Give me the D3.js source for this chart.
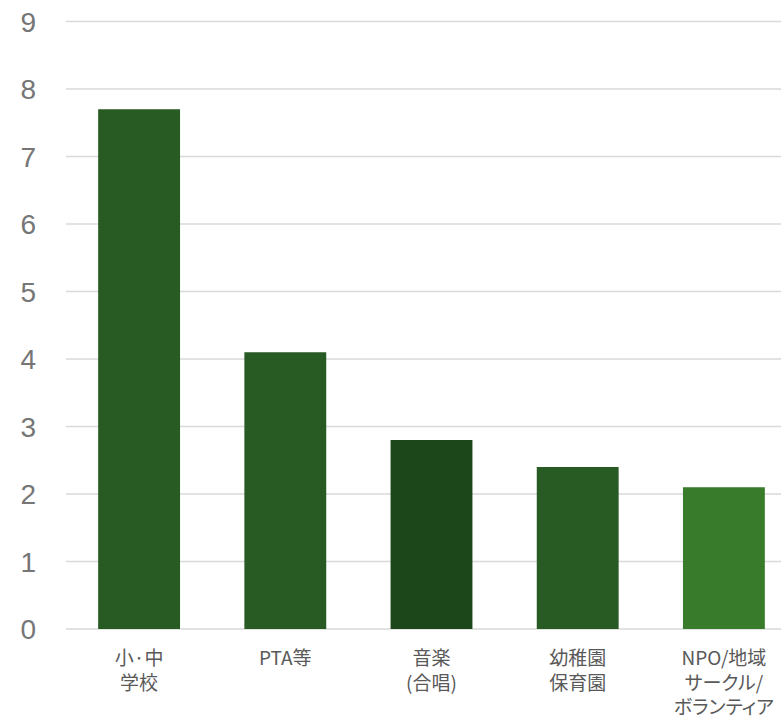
<!DOCTYPE html>
<html><head><meta charset="utf-8">
<script src="https://cdn.jsdelivr.net/npm/d3@7"></script>
<style>body{margin:0;background:#fff}svg{display:block}</style>
</head><body>
<svg id="c" width="781" height="719"></svg>
<script>
const categories = [["小·中","学校"],["PTA等"],["音楽","(合唱)"],["幼稚園","保育園"],["NPO/地域","サークル/","ボランティア"]];
const values = [7.7, 4.1, 2.8, 2.4, 2.1];
const barColors = ["#285A24","#285A24","#1B471B","#285A24","#387B2B"];
const yTicks = [0,1,2,3,4,5,6,7,8,9];

(function() {
const svg = d3.select("#c");
const mL = 66, mR = 797, mT = 21.5, mB = 629;
const x = d3.scaleBand().domain(d3.range(values.length)).range([mL, mR]).paddingInner(0.44).paddingOuter(0.22);
const y = d3.scaleLinear().domain([0, 9]).range([mB, mT]);

svg.append("g").selectAll("line").data(yTicks).join("line")
  .attr("x1", mL).attr("x2", 781)
  .attr("y1", d => y(d)).attr("y2", d => y(d))
  .attr("stroke", "#d9d9d9").attr("stroke-width", 1.5);

svg.append("g").selectAll("text").data(yTicks).join("text")
  .attr("x", 36).attr("y", d => y(d)).attr("dy", "0.36em")
  .attr("text-anchor", "end")
  .attr("font-family", "Liberation Sans, Arial, sans-serif")
  .attr("font-size", 28).attr("fill", "#767676")
  .text(d => d);

svg.append("g").selectAll("rect").data(values).join("rect")
  .attr("x", (d, i) => x(i)).attr("width", x.bandwidth())
  .attr("y", d => y(d)).attr("height", d => y(0) - y(d))
  .attr("fill", (d, i) => barColors[i]);

const lab = svg.append("g").selectAll("text").data(categories).join("text")
  .attr("x", (d, i) => x(i) + x.bandwidth() / 2)
  .attr("y", 665)
  .attr("text-anchor", "middle")
  .attr("font-family", "Noto Sans CJK JP, sans-serif")
  .style("font-feature-settings", "'palt'")
  .attr("font-size", 19).attr("fill", "#595959");
lab.selectAll("tspan").data(d => d).join("tspan")
  .attr("x", function() { return d3.select(this.parentNode).attr("x"); })
  .attr("dy", (d, i) => i === 0 ? 0 : 24.5)
  .text(d => d);
})();
</script>
</body></html>
